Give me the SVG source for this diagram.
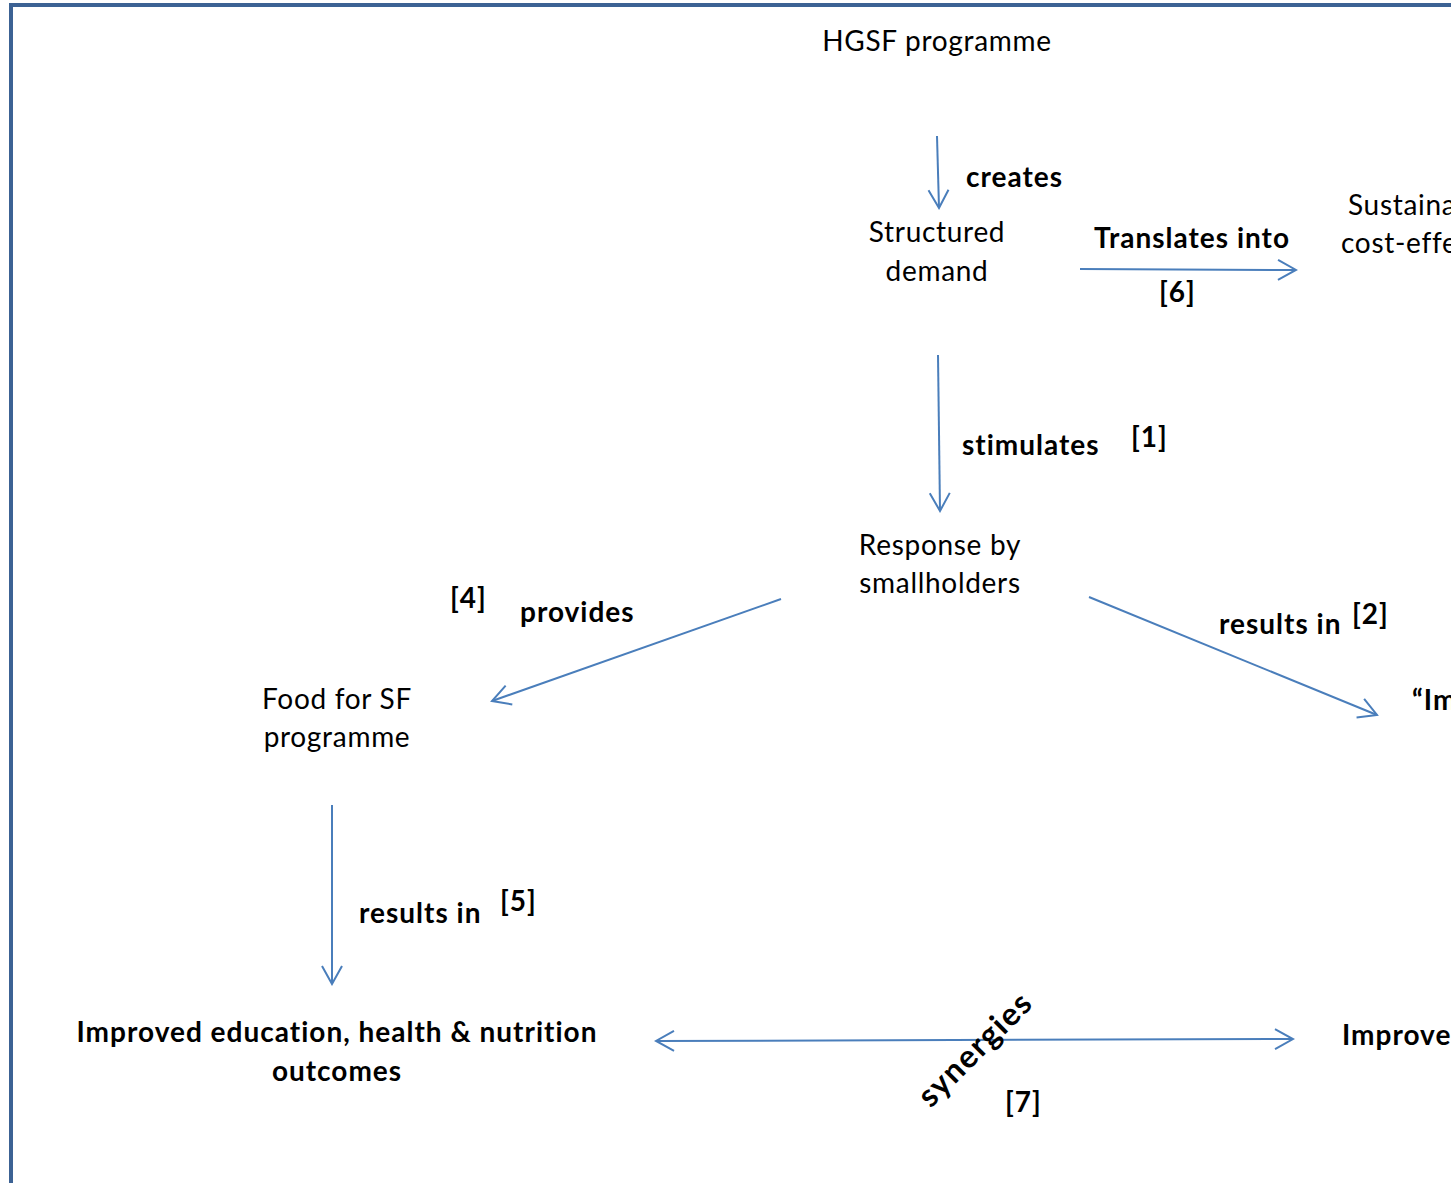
<svg xmlns="http://www.w3.org/2000/svg" width="1451" height="1183" viewBox="0 0 1451 1183">
<style>
  text { font-family: Lato, "Open Sans", "Liberation Sans", sans-serif; font-size: 28px; fill: #000; letter-spacing: 0.7px; }
  .b { font-weight: bold; letter-spacing: 1px; }
  .c { text-anchor: middle; }
  .syn { font-size: 32px; letter-spacing: 1.5px; }
  .conn { stroke: #4a7ebb; stroke-width: 2; fill: none; }
</style>
<defs>
  <marker id="arr" viewBox="-20 -12 22 24" refX="0" refY="0" markerWidth="22" markerHeight="24" markerUnits="userSpaceOnUse" orient="auto-start-reverse">
    <path d="M-18,-10 L0,0 L-18,10" fill="none" stroke="#4a7ebb" stroke-width="2"/>
  </marker>
</defs>
<rect x="0" y="0" width="1451" height="1183" fill="#fff"/>
<rect id="frame" x="11" y="5" width="1500" height="1300" fill="none" stroke="#3c6294" stroke-width="4"/>

<g id="connectors">
  <line class="conn" x1="937" y1="136" x2="939" y2="208" marker-end="url(#arr)"/>
  <line class="conn" x1="1080" y1="269" x2="1296" y2="270" marker-end="url(#arr)"/>
  <line class="conn" x1="938" y1="355" x2="940" y2="511" marker-end="url(#arr)"/>
  <line class="conn" x1="781" y1="599" x2="492" y2="701" marker-end="url(#arr)"/>
  <line class="conn" x1="1089" y1="597" x2="1377" y2="715" marker-end="url(#arr)"/>
  <line class="conn" x1="332" y1="805" x2="332" y2="984" marker-end="url(#arr)"/>
  <line class="conn" x1="656" y1="1041" x2="1293" y2="1039" marker-start="url(#arr)" marker-end="url(#arr)"/>
</g>

<g id="labels">
  <text class="b" x="966" y="187">creates</text>
  <text class="b" x="1094" y="248">Translates into</text>
  <text class="b" x="1159" y="302">[6]</text>
  <text class="b" x="962" y="455">stimulates</text>
  <text class="b" x="1131" y="447">[1]</text>
  <text class="b" x="450" y="608">[4]</text>
  <text class="b" x="520" y="622">provides</text>
  <text class="b" x="1219" y="634">results in</text>
  <text class="b" x="1352" y="624">[2]</text>
  <text class="b" x="359" y="923">results in</text>
  <text class="b" x="500" y="911">[5]</text>
  <text class="b c syn" x="975" y="1060" transform="rotate(-45 975 1049)">synergies</text>
  <text class="b" x="1005" y="1112">[7]</text>
</g>

<g id="node-hgsf"><text class="c" x="937" y="51">HGSF programme</text></g>
<g id="node-structured">
  <text class="c" x="937" y="242">Structured</text>
  <text class="c" x="937" y="281">demand</text>
</g>
<g id="node-sustainable">
  <text x="1348" y="215">Sustaina</text>
  <text x="1341" y="253">cost-effe</text>
</g>
<g id="node-response">
  <text class="c" x="940" y="555">Response by</text>
  <text class="c" x="940" y="593">smallholders</text>
</g>
<g id="node-food">
  <text class="c" x="337" y="709">Food for SF</text>
  <text class="c" x="337" y="747">programme</text>
</g>
<g id="node-im"><text class="b" x="1412" y="710">“Im</text></g>
<g id="node-outcomes">
  <text class="b c" x="337" y="1042">Improved education, health &amp; nutrition</text>
  <text class="b c" x="337" y="1081">outcomes</text>
</g>
<g id="node-improve"><text class="b" x="1342" y="1045">Improve</text></g>
</svg>
